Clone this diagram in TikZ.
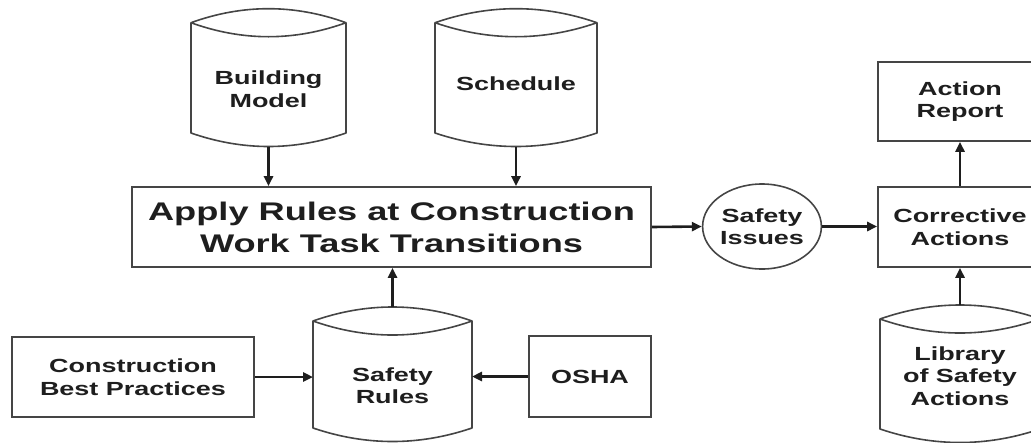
\documentclass[tikz,border=0pt]{standalone}
\usepackage{fontspec}
\setmainfont{Liberation Sans}[FakeStretch=1.42]
\usetikzlibrary{arrows.meta,calc,shapes.geometric}
\definecolor{ink}{HTML}{1E1E1E}
\definecolor{edge}{HTML}{454545}
\tikzset{
  outline/.style={draw=edge, line width=1.6pt, line join=round},
  lbl/.style={font=\bfseries\fontsize{19}{22.5}\selectfont, text=ink, align=center, inner sep=0pt},
  box/.style={lbl, rectangle, draw=edge, line width=1.6pt},
  bigbox/.style={box, font=\bfseries\fontsize{25.5}{32}\selectfont},
  oval/.style={lbl, ellipse, draw=edge, line width=1.6pt},
  arr/.style={draw=ink, line width=2.6pt, -{Triangle[length=10pt,width=9pt]}}
}
% name, x-left, x-right, y top corners, y bottom corners, label y, text
\newcommand{\dbcyl}[7]{%
  \node[lbl] (#1) at ({(#2+#3)/2},#6) {#7};
  \coordinate (#1-a) at (#2,#4);
  \coordinate (#1-d) at (#3,#4);
  \coordinate (#1-b) at (#2,#5);
  \coordinate (#1-c) at (#3,#5);
  \coordinate (#1-top) at ({(#2+#3)/2},{#4-14});
  \coordinate (#1-bot) at ({(#2+#3)/2},{#5+13.5});
  \draw[outline] (#1-a) -- (#1-b)
    .. controls ($(#1-b)!0.3333!(#1-c)+(0,18)$) and ($(#1-b)!0.6667!(#1-c)+(0,18)$) .. (#1-c)
    -- (#1-d)
    .. controls ($(#1-a)!0.6667!(#1-d)+(0,-18.67)$) and ($(#1-a)!0.3333!(#1-d)+(0,-18.67)$) .. (#1-a)
    .. controls ($(#1-a)!0.3333!(#1-d)+(0,18.67)$) and ($(#1-a)!0.6667!(#1-d)+(0,18.67)$) .. (#1-d);
}
\begin{document}
\begin{tikzpicture}[x=1pt,y=-1pt]
\useasboundingbox (0,0) rectangle (1031,442);
\clip (0,0) rectangle (1031,442);

% data stores
\dbcyl{bm}{191}{346}{22.7}{133}{89}{Building\\Model}
\dbcyl{sc}{435}{597}{22.7}{133}{84}{Schedule}
\dbcyl{sr}{313}{472}{321}{428}{385.7}{Safety\\Rules}
\dbcyl{lib}{880}{1040}{319}{429}{376}{Library\\of Safety\\Actions}

% process boxes
\node[bigbox, minimum width=519pt, minimum height=80pt] (main) at (391.5,227)
  {Apply Rules at Construction\\Work Task Transitions};
\node[box, minimum width=242pt, minimum height=80pt] (cbp) at (133,377)
  {Construction\\Best Practices};
\node[box, minimum width=122pt, minimum height=81pt] (osha) at (590,376.5) {OSHA};
\node[oval, minimum width=115pt, minimum height=85pt] (si) at (762,226.5) {Safety\\Issues};
\node[box, minimum width=164pt, minimum height=80pt] (ca) at (960,227) {Corrective\\Actions};
\node[box, minimum width=164pt, minimum height=79pt] (ar) at (960,101.5) {Action\\Report};

% connectors
\draw[arr] (bm-bot) -- (bm-bot |- main.north);
\draw[arr] (sc-bot) -- (sc-bot |- main.north);
\draw[arr] (sr-top) -- (sr-top |- main.south);
\draw[arr] (cbp.east) -- (cbp.east -| sr-a);
\draw[arr] (osha.west) -- (osha.west -| sr-d);
\draw[arr] (main.east) -- (si.west);
\draw[arr] (si.east) -- (si.east -| ca.west);
\draw[arr] (ca.north) -- (ar.south);
\draw[arr] (lib-top) -- (lib-top |- ca.south);
\end{tikzpicture}
\end{document}
